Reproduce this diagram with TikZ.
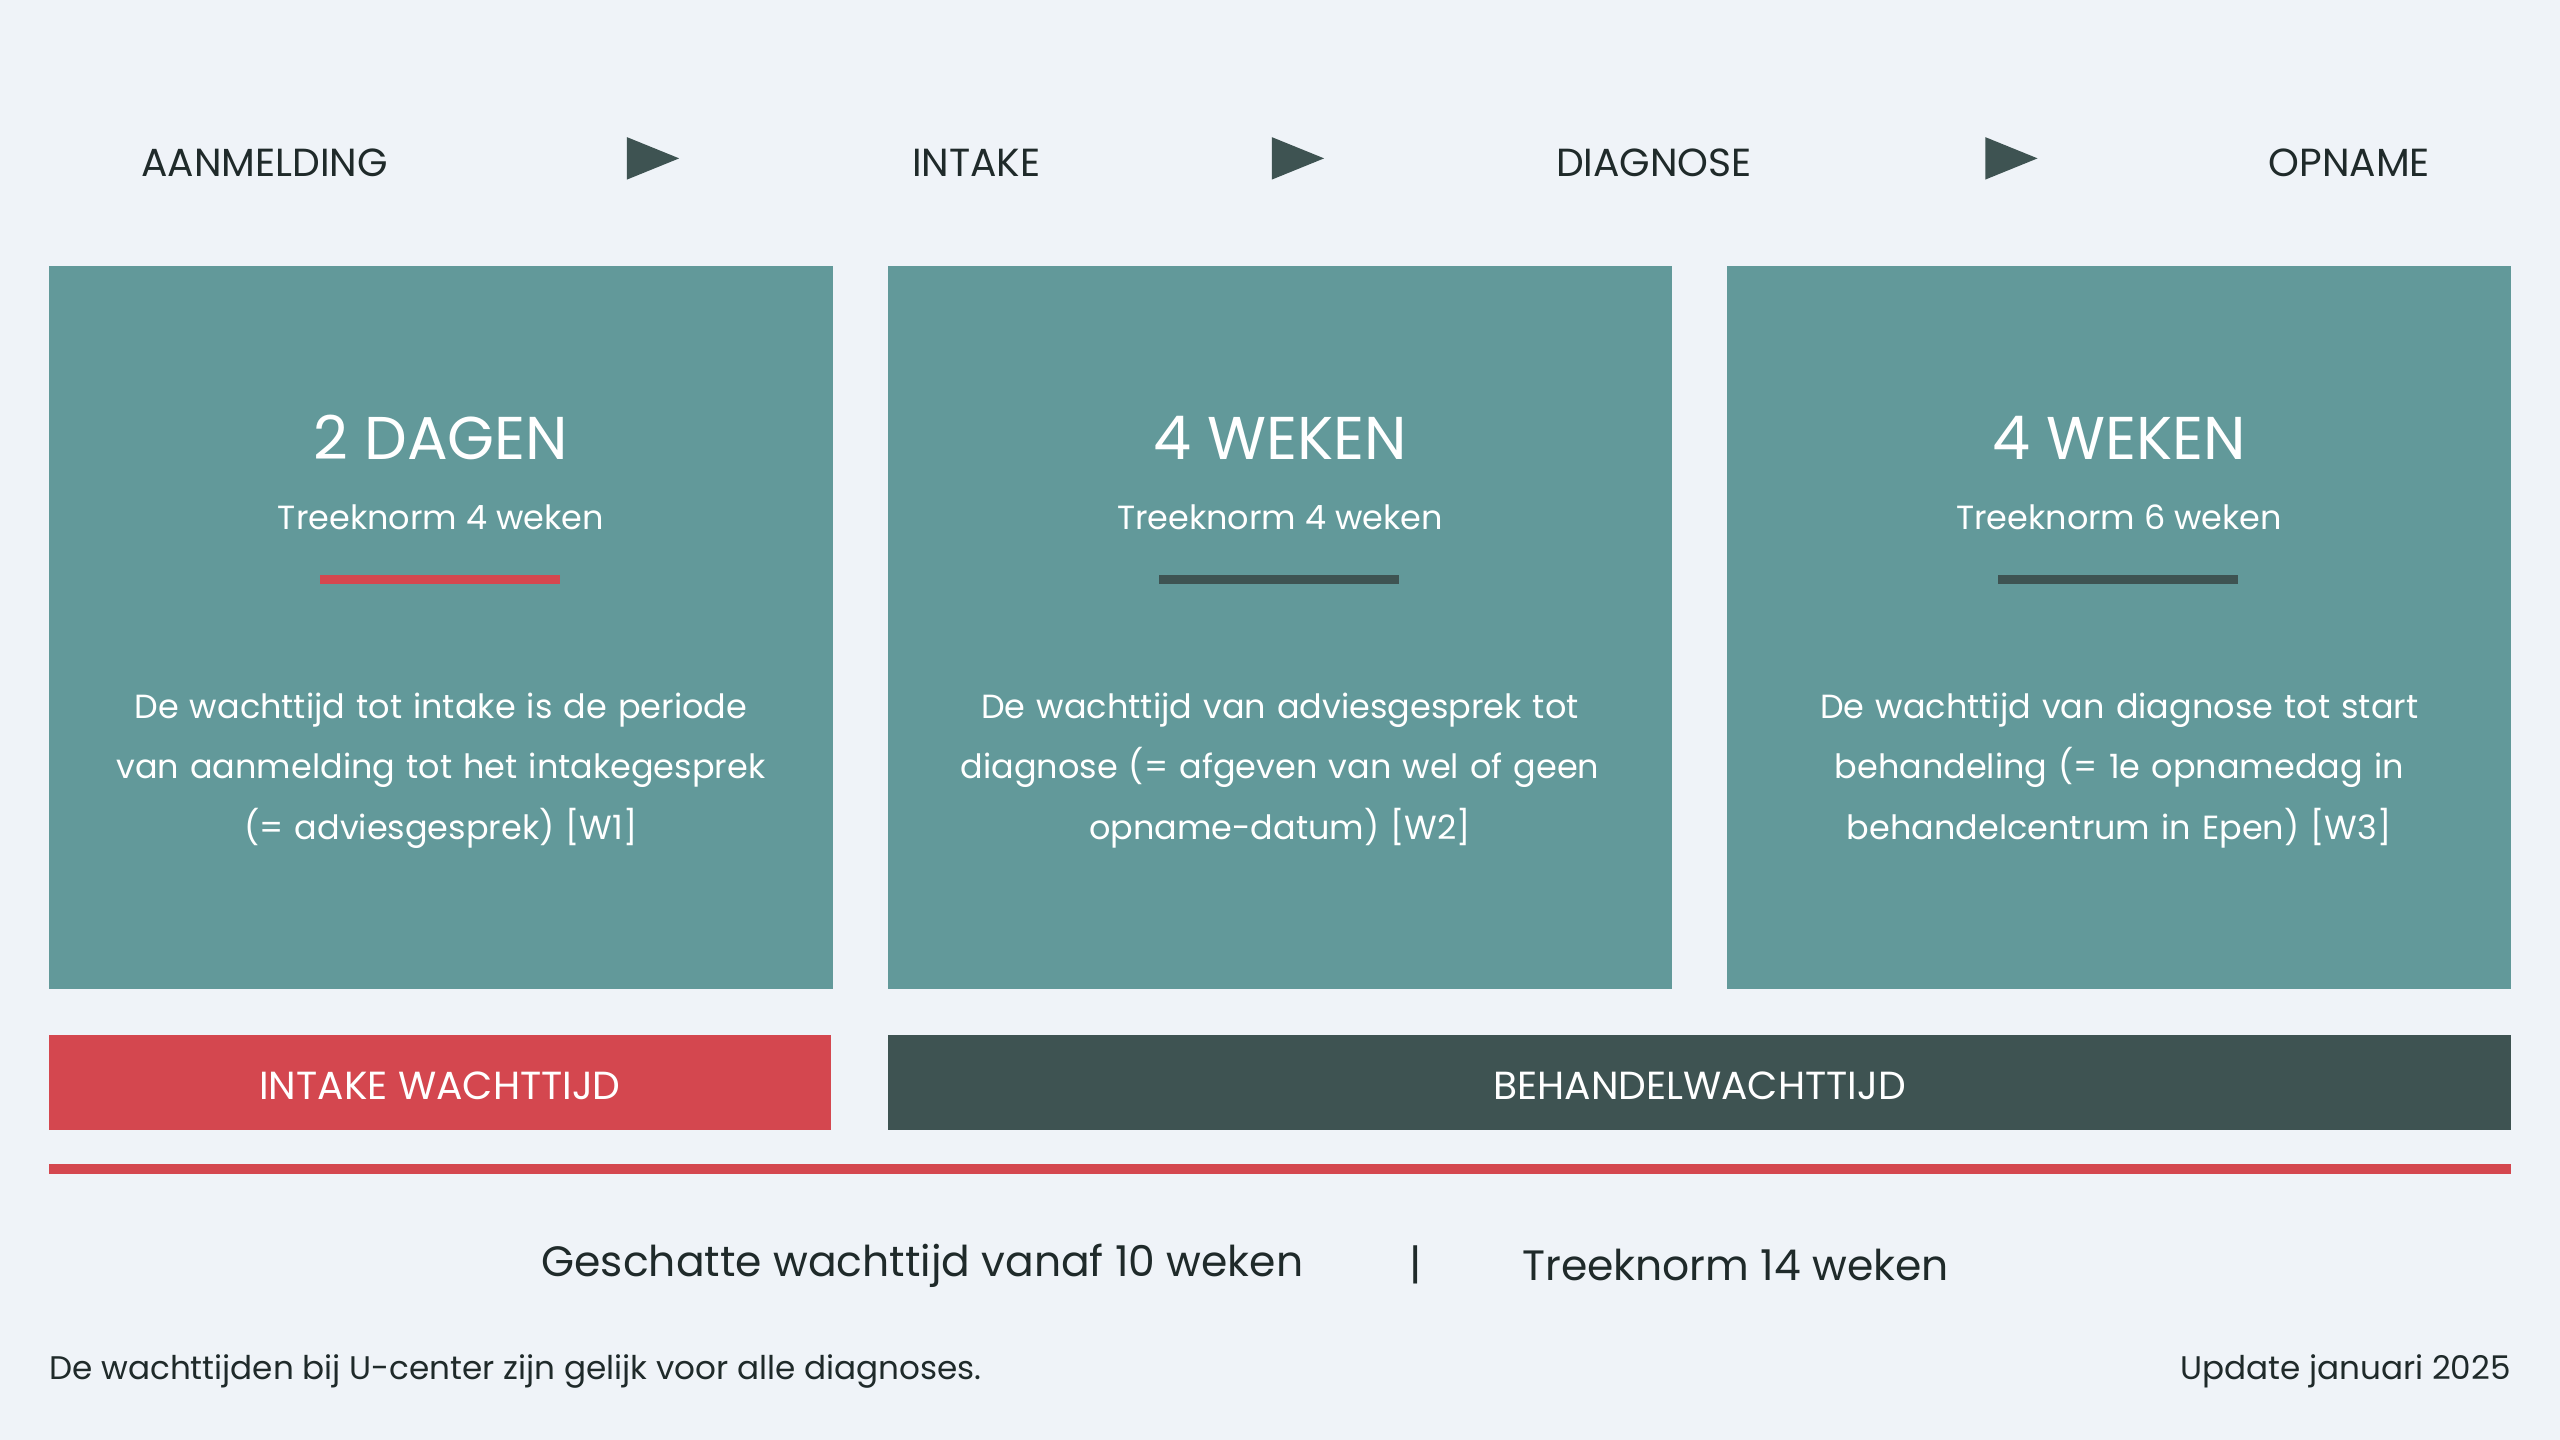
\documentclass[tikz,border=0pt]{standalone}
\usepackage{fontspec}
\setmainfont{Poppins}
\definecolor{bg}{HTML}{EFF3F8}
\definecolor{teal}{HTML}{62999A}
\definecolor{redc}{HTML}{D4474F}
\definecolor{dark}{HTML}{3E5352}
\definecolor{txt}{HTML}{1F2A2A}
\begin{document}
\begin{tikzpicture}[x=1pt,y=-1pt,
  toplab/.style={text=txt,font=\fontsize{24}{28}\selectfont,anchor=center},
  head/.style={text=white,font=\fontsize{37}{42}\selectfont},
  norm/.style={text=white,font=\fontsize{20.5}{24}\selectfont},
  body/.style={text=white,font=\fontsize{20.5}{37}\selectfont,align=center,text width=440pt},
  barlab/.style={text=white,font=\fontsize{24}{28}\selectfont},
  arr/.style={fill=dark,draw=none}]
\fill[bg] (0,0) rectangle (1568,882);
\useasboundingbox (0,0) rectangle (1568,882);
\node[toplab] (t1) at (162,100) {AANMELDING};
\node[toplab] (t2) at (598,100) {INTAKE};
\node[toplab] (t3) at (1013,100) {DIAGNOSE};
\node[toplab] (t4) at (1439,100) {OPNAME};
\foreach \x in {384,779,1216}{\fill[arr] (\x,84) -- (\x+32,97) -- (\x,110) -- cycle;}
\foreach \x/\h/\n/\c/\t [count=\i] in {
 30/2 DAGEN/4/redc/{De wachttijd tot intake is de periode\\van aanmelding tot het intakegesprek\\(= adviesgesprek) [W1]},
 544/4 WEKEN/4/dark/{De wachttijd van adviesgesprek tot\\diagnose (= afgeven van wel of geen\\opname-datum) [W2]},
 1058/4 WEKEN/6/dark/{De wachttijd van diagnose tot start\\behandeling (= 1e opnamedag in\\behandelcentrum in Epen) [W3]}}{
 \fill[teal] (\x,163) rectangle (\x+480,606);
 \node[head] (h\i) at (\x+240,268) {\h};
 \node[norm] (n\i) at (\x+240,317) {Treeknorm \n\ weken};
 \fill[\c] (\x+166,352) rectangle (\x+313,358);
 \node[body] (b\i) at (\x+240,472) {\t};
}
\fill[redc] (30,634) rectangle (509,692);
\node[barlab] (iw) at (269.5,665) {INTAKE WACHTTIJD};
\fill[dark] (544,634) rectangle (1538,692);
\node[barlab] (bw) at (1041,665) {BEHANDELWACHTTIJD};
\fill[redc] (30,713) rectangle (1538,719);
\node[text=txt,font=\fontsize{26}{30}\selectfont] (g1) at (565,775) {Geschatte wachttijd vanaf 10 weken};
\node[text=txt,font=\fontsize{26}{30}\selectfont] (g2) at (867,775) {|};
\node[text=txt,font=\fontsize{26}{30}\selectfont] (g3) at (1063,775) {Treeknorm 14 weken};
\node[text=txt,font=\fontsize{20}{24}\selectfont,anchor=west,inner sep=0] (f1) at (30,840) {De wachttijden bij U-center zijn gelijk voor alle diagnoses.};
\node[text=txt,font=\fontsize{20}{24}\selectfont,anchor=east,inner sep=0] (f2) at (1538,840) {Update januari 2025};
\end{tikzpicture}
\end{document}
